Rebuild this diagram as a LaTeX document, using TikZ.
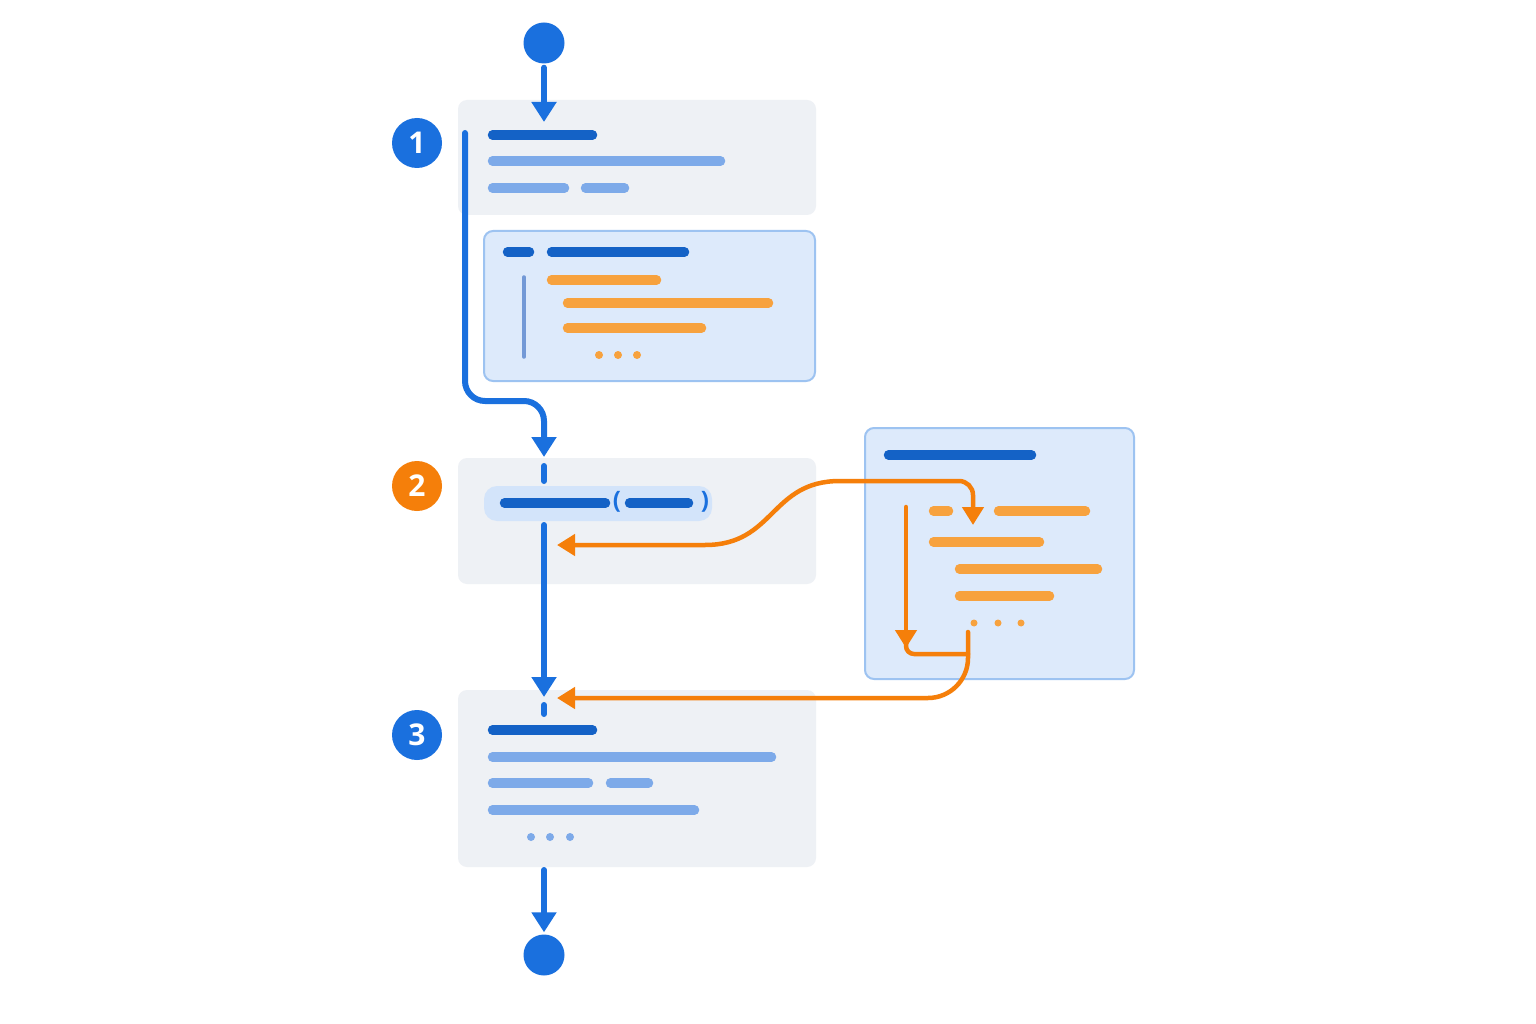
\documentclass[tikz,border=0pt]{standalone}
\usepackage{fontspec}
\setmainfont{Open Sans}
\usetikzlibrary{arrows.meta}
\definecolor{flowblue}{HTML}{1A70DE}
\definecolor{bardark}{HTML}{1462C6}
\definecolor{barlight}{HTML}{7DAAE9}
\definecolor{barorange}{HTML}{F7A23E}
\definecolor{callorange}{HTML}{F57F0A}
\definecolor{cardgray}{HTML}{EEF1F5}
\definecolor{panelfill}{HTML}{DDEAFB}
\definecolor{panelline}{HTML}{9DC3F1}
\definecolor{pillfill}{HTML}{D3E4FA}
\definecolor{guide}{HTML}{7399D6}
\begin{document}
\begin{tikzpicture}[x=1pt,y=-1pt,
    card/.style={fill=cardgray, rounded corners=9pt, anchor=north west, inner sep=0pt, outer sep=0pt},
    panel/.style={fill=panelfill, draw=panelline, line width=2pt, rounded corners=9pt, anchor=north west, inner sep=0pt, outer sep=0pt},
    badge/.style={circle, minimum size=50pt, inner sep=0pt, text=white, font=\fontsize{30}{30}\selectfont\bfseries},
    term/.style={circle, fill=flowblue, minimum size=41pt, inner sep=0pt},
    bar/.style={line width=9.5pt, line cap=round, shorten <=4.5pt, shorten >=4.5pt},
    flow/.style={draw=flowblue, line width=6pt, line cap=round, -{Triangle[width=24pt,length=20pt]}},
    call/.style={draw=callorange, line width=4.5pt, line cap=round}]

    \fill[white] (0,0) rectangle (1536,1024);
    \useasboundingbox (0,0) rectangle (1536,1024);

    \node[term] (start) at (544,43) {};
    \node[card, minimum width=358pt, minimum height=115pt] (stepa) at (458,100) {};
    \node[panel, minimum width=331pt, minimum height=150pt] (inner) at (484,231) {};
    \node[card, minimum width=358pt, minimum height=126pt] (stepb) at (458,458) {};
    \node[card, minimum width=358pt, minimum height=177pt] (stepc) at (458,690) {};
    \node[panel, minimum width=269pt, minimum height=251pt] (func) at (865,428) {};
    \node[term] (stop) at (544,955) {};

    \node[badge, fill=flowblue] (one) at (417,143) {1};
    \node[badge, fill=callorange] (two) at (417,486) {2};
    \node[badge, fill=flowblue] (three) at (417,735) {3};

    \coordinate (ina) at (544,122);
    \coordinate (outa) at (465,133);
    \coordinate (bend) at (544,401);
    \coordinate (inb) at (544,457);
    \coordinate (outb) at (544,525);
    \coordinate (inc) at (544,697);
    \coordinate (outc) at (544,870);
    \coordinate (callin) at (557,545);
    \coordinate (entry) at (973,525);
    \coordinate (retin) at (557,698);

    \draw[bar, bardark] (488,135) -- (597,135);
    \draw[bar, barlight] (488,161) -- (725,161);
    \draw[bar, barlight] (488,188) -- (569,188);
    \draw[bar, barlight] (581,188) -- (629,188);

    \draw[bar, bardark] (503,252) -- (534,252);
    \draw[bar, bardark] (547,252) -- (689,252);
    \draw[guide, line width=3.5pt, line cap=round] (524,277) -- (524,357);
    \draw[bar, barorange] (547,280) -- (661,280);
    \draw[bar, barorange] (563,303) -- (773,303);
    \draw[bar, barorange] (563,328) -- (706,328);
    \foreach \x in {599,618,637}
        \fill[barorange] (\x,355) circle (4pt);

    \fill[pillfill, rounded corners=13pt] (484,486) rectangle (712,521);
    \draw[bar, bardark] (500,503) -- (610,503);
    \draw[bar, bardark] (625,503) -- (693,503);
    \node[text=flowblue, font=\fontsize{24}{24}\selectfont\bfseries] (lpar) at (617,502) {(};
    \node[text=flowblue, font=\fontsize{24}{24}\selectfont\bfseries] (rpar) at (705,502) {)};

    \draw[bar, bardark] (488,730) -- (597,730);
    \draw[bar, barlight] (488,757) -- (776,757);
    \draw[bar, barlight] (488,783) -- (593,783);
    \draw[bar, barlight] (606,783) -- (653,783);
    \draw[bar, barlight] (488,810) -- (699,810);
    \foreach \x in {531,550,570}
        \fill[barlight] (\x,837) circle (4pt);

    \draw[bar, bardark] (884,455) -- (1036,455);
    \draw[bar, barorange] (929,511) -- (953,511);
    \draw[bar, barorange] (994,511) -- (1090,511);
    \draw[bar, barorange] (929,542) -- (1044,542);
    \draw[bar, barorange] (955,569) -- (1102,569);
    \draw[bar, barorange] (955,596) -- (1054,596);
    \foreach \x in {974,998,1021}
        \fill[barorange] (\x,623) circle (3.5pt);

    \draw[flow, shorten <=4pt] (start) -- (ina);
    \draw[flow, rounded corners=20pt] (outa) |- (bend) -- (inb);
    \draw[flowblue, line width=6pt, line cap=round] (544,466) -- (544,481);
    \draw[flow] (outb) -- (inc);
    \draw[flowblue, line width=6pt, line cap=round] (544,705) -- (544,714);
    \draw[flow, shorten >=2pt] (outc) -- (stop);

    \draw[call, {Triangle[width=21pt,length=18pt]}-{Triangle[width=21pt,length=18pt]}]
        (callin) -- (705,545) .. controls (775,545) and (770,481) .. (840,481)
        [rounded corners=14pt] -| (entry);
    \draw[call, -{Triangle[width=21pt,length=18pt]}] (906,507) -- (906,648);
    \draw[call, rounded corners=8pt] (906,640) |- (968,654);
    \draw[call, rounded corners=40pt, -{Triangle[width=21pt,length=18pt]}] (968,632) |- (retin);
\end{tikzpicture}
\end{document}
